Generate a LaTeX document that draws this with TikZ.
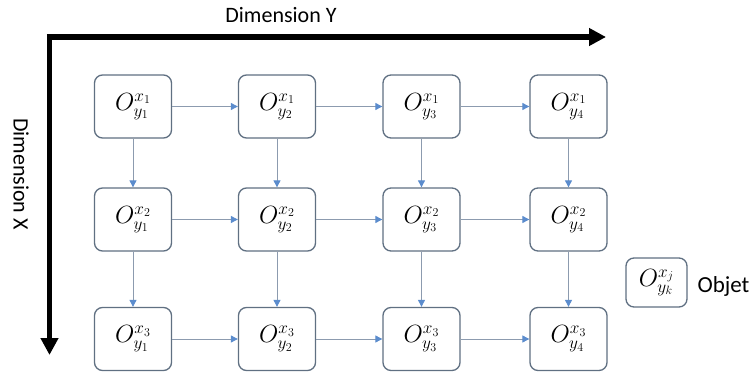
\documentclass[tikz,border=0pt]{standalone}
\usepackage{fontspec}
\setmainfont{Carlito}
\DeclareMathSizes{23}{23}{17}{13}
\usetikzlibrary{arrows.meta}
\definecolor{boxline}{RGB}{96,112,130}
\definecolor{conn}{RGB}{140,155,175}
\definecolor{tipblue}{RGB}{91,140,205}
\begin{document}
\begin{tikzpicture}[x=1pt,y=-1pt,
  obj/.style={draw=boxline,line width=1.3pt,rounded corners=8pt,fill=white,
    minimum width=77pt,minimum height=63pt,inner sep=0pt,
    font=\fontsize{23}{26}\selectfont},
  conn/.style={draw=conn,line width=0.9pt,-{Triangle[length=7pt,width=7pt,fill=tipblue,color=tipblue]}},
  axis/.style={line width=5.5pt,-{Triangle[length=17pt,width=17pt]},line join=miter},
  lbl/.style={font=\fontsize{22}{26}\selectfont}]
\useasboundingbox (0,0) rectangle (753,372);
% axes
\coordinate (yend) at (606,37);
\coordinate (xend) at (49.5,355);
\draw[axis] (46.75,37) -- (yend);
\draw[axis] (49.5,34.25) -- (xend);
\node[lbl] (dimy) at (281,15) {Dimension Y};
\node[lbl,rotate=-90] (dimx) at (21,174) {Dimension X};
% nodes
\foreach \r/\ry in {1/106.5,2/219.5,3/339}{
  \foreach \c/\cx in {1/133,2/277,3/421.5,4/568.5}{
    \node[obj] (n\r\c) at (\cx,\ry) {$O_{y_{\c}}^{x_{\r}}$};
  }
}
% horizontal connectors
\foreach \r in {1,2,3}{
  \draw[conn] (n\r1) -- (n\r2);
  \draw[conn] (n\r2) -- (n\r3);
  \draw[conn] (n\r3) -- (n\r4);
}
% vertical connectors
\foreach \c in {1,2,3,4}{
  \draw[conn] (n1\c) -- (n2\c);
  \draw[conn] (n2\c) -- (n3\c);
}
% legend
\node[obj,minimum width=61pt,minimum height=49pt] (leg) at (656.5,282.5) {$O_{y_k}^{x_j}$};
\node[lbl,anchor=west,font=\fontsize{23}{26}\selectfont] (objet) at (694,286) {Objet};
\end{tikzpicture}
\end{document}
